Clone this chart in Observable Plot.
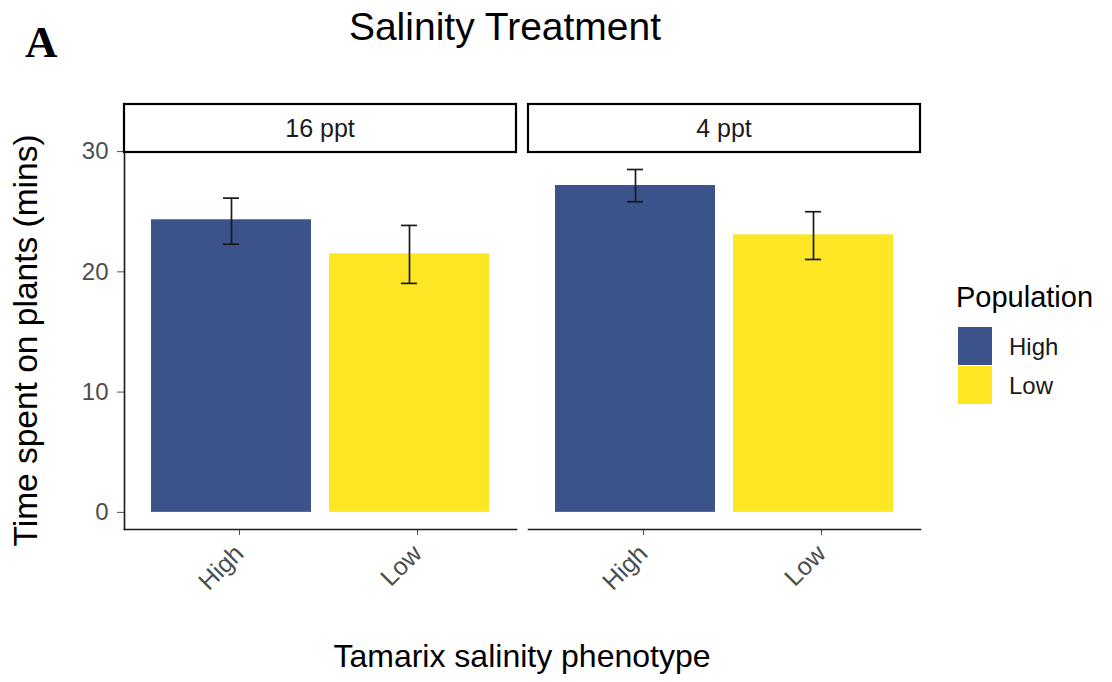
<!DOCTYPE html>
<html><head><meta charset="utf-8">
<script src="https://cdn.jsdelivr.net/npm/d3@7"></script>
<script src="https://cdn.jsdelivr.net/npm/@observablehq/plot@0.6"></script>
<style>
body{margin:0;background:#fff;}
#chart{position:relative;width:1112px;height:682px;}
</style></head><body><div id="chart"></div>
<script>
// ---- data ----
const salinity = ["16 ppt", "16 ppt", "4 ppt", "4 ppt"];
const phenotype = ["High", "Low", "High", "Low"];
const population = ["High", "Low", "High", "Low"];
const meanTime = [24.33, 21.5, 27.18, 23.08];
const errLow = [22.3, 19.04, 25.83, 21.03];
const errHigh = [26.13, 23.86, 28.51, 25.0];
const yTicks = [0, 10, 20, 30];
const facetOrder = ["16 ppt", "4 ppt"];
const popLevels = ["High", "Low"];
const popColors = ["#3B528B", "#FDE725"];

const data = salinity.map((s, i) => ({
  salinity: s, phenotype: phenotype[i], population: population[i],
  mean: meanTime[i], lo: errLow[i], hi: errHigh[i]
}));

const font = "'Liberation Sans', Arial, sans-serif";
const W = 1112, H = 682;
const mL = 123, mR = 191, mT = 152, mB = 153;

const plot = Plot.plot({
  width: W, height: H,
  marginLeft: mL, marginRight: mR, marginTop: mT, marginBottom: mB,
  style: {fontFamily: font, background: "#fff", overflow: "visible"},
  fx: {domain: facetOrder, paddingInner: 0.0296, paddingOuter: 0, axis: null, label: null},
  x: {domain: popLevels, paddingInner: 0.1, paddingOuter: 0.15, label: null},
  y: {domain: [-1.425, 29.925], label: null},
  color: {domain: popLevels, range: popColors},
  marks: [
    Plot.barY(data, {fx: "salinity", x: "phenotype", y: "mean", fill: "population"}),
    Plot.ruleX(data, {fx: "salinity", x: "phenotype", y1: "lo", y2: "hi", stroke: "#1a1a1a", strokeWidth: 1.7}),
    Plot.tickY(data, {fx: "salinity", x: "phenotype", y: "lo", inset: 72, stroke: "#1a1a1a", strokeWidth: 1.7}),
    Plot.tickY(data, {fx: "salinity", x: "phenotype", y: "hi", inset: 72, stroke: "#1a1a1a", strokeWidth: 1.7}),
    Plot.axisY({ticks: yTicks, tickSize: 7, tickPadding: 9, fontSize: 24, color: "#4d4d4d", label: null}),
    Plot.axisX({tickSize: 6, tickPadding: 14, tickRotate: -45, fontSize: 25, dx: 8, color: "#4d4d4d", label: null}),
    Plot.frame({anchor: "bottom", stroke: "#1a1a1a", strokeWidth: 1.6}),
    Plot.frame({anchor: "left", facetAnchor: "left", stroke: "#1a1a1a", strokeWidth: 1.6})
  ]
});
document.getElementById("chart").appendChild(plot);

const svg = d3.select(plot);

// ---- annotations using the plot's own scales ----
const fx = plot.scale("fx");
const bw = fx.bandwidth;

// facet strips
facetOrder.forEach(k => {
  const x0 = fx.apply(k);
  svg.append("rect").attr("x", x0).attr("y", 104).attr("width", bw).attr("height", 48)
    .attr("fill", "#fff").attr("stroke", "#000").attr("stroke-width", 2.2);
  svg.append("text").attr("x", x0 + bw / 2).attr("y", 128).attr("dy", "0.36em")
    .attr("text-anchor", "middle").attr("font-family", font).attr("font-size", 25)
    .attr("fill", "#1a1a1a").text(k);
});

// title and panel letter
svg.append("text").attr("x", 505).attr("y", 40).attr("text-anchor", "middle")
  .attr("font-family", font).attr("font-size", 39).attr("fill", "#000").text("Salinity Treatment");
svg.append("text").attr("x", 25).attr("y", 57).attr("text-anchor", "start")
  .attr("font-family", "'Liberation Serif', 'Times New Roman', serif")
  .attr("font-weight", "bold").attr("font-size", 45).attr("fill", "#000").text("A");

// axis titles
svg.append("text").attr("x", (mL + W - mR) / 2).attr("y", 667).attr("text-anchor", "middle")
  .attr("font-family", font).attr("font-size", 32).attr("fill", "#000").text("Tamarix salinity phenotype");
svg.append("text").attr("transform", `translate(37,${(mT + H - mB) / 2}) rotate(-90)`).attr("text-anchor", "middle")
  .attr("font-family", font).attr("font-size", 33.5).attr("fill", "#000").text("Time spent on plants (mins)");

// legend
const color = plot.scale("color");
svg.append("text").attr("x", 956).attr("y", 307).attr("text-anchor", "start")
  .attr("font-family", font).attr("font-size", 29).attr("fill", "#000").text("Population");
popLevels.forEach((lv, i) => {
  const y0 = 327 + i * 39;
  svg.append("rect").attr("x", 958).attr("y", y0).attr("width", 34).attr("height", 38)
    .attr("fill", color.apply(lv));
  svg.append("text").attr("x", 1009).attr("y", y0 + 19).attr("dy", "0.36em").attr("text-anchor", "start")
    .attr("font-family", font).attr("font-size", 24).attr("fill", "#1a1a1a").text(lv);
});
</script></body></html>
